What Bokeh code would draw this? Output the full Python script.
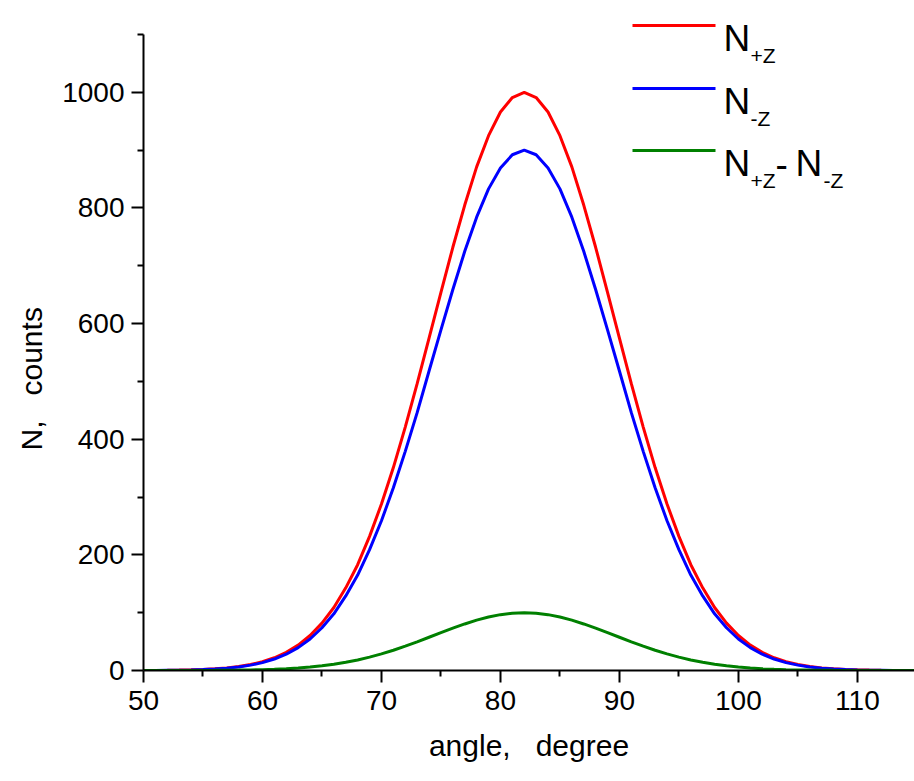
from bokeh.plotting import figure
from bokeh.models import Range1d, Label, Arrow, FixedTicker, Title
from bokeh.embed import file_html
from bokeh.resources import INLINE

angle = list(range(50, 116))

n_plus_z = [0.1, 0.2, 0.4, 0.7, 1.1, 1.8, 2.9, 4.5, 6.8, 10.3, 15.1, 22.0, 31.3, 43.9, 60.5,
            82, 109, 143, 183, 232, 288, 351, 421, 496, 575, 654, 732, 805, 871, 925, 966, 991,
            1000,
            991, 966, 925, 871, 805, 732, 654, 575, 496, 421, 351, 288, 232, 183, 143, 109, 82,
            60.5, 43.9, 31.3, 22.0, 15.1, 10.3, 6.8, 4.5, 2.9, 1.8, 1.1, 0.7, 0.4, 0.2, 0.1, 0.1]

n_minus_z = [0.1, 0.2, 0.4, 0.6, 1.0, 1.6, 2.6, 4.1, 6.1, 9.3, 13.6, 19.8, 28.2, 39.5, 54.5,
             74, 98, 129, 165, 209, 259, 316, 379, 446, 518, 589, 659, 725, 784, 833, 869, 892,
             900,
             892, 869, 833, 784, 725, 659, 589, 518, 446, 379, 316, 259, 209, 165, 129, 98, 74,
             54.5, 39.5, 28.2, 19.8, 13.6, 9.3, 6.1, 4.1, 2.6, 1.6, 1.0, 0.6, 0.4, 0.2, 0.1, 0.1]

n_diff = [0.0, 0.0, 0.0, 0.1, 0.1, 0.2, 0.3, 0.5, 0.7, 1.0, 1.5, 2.2, 3.1, 4.4, 6.1,
          8.2, 10.9, 14.3, 18.3, 23.2, 28.8, 35.1, 42.1, 49.6, 57.5, 65.4, 73.2, 80.5, 87.1, 92.5, 96.6, 99.1,
          100,
          99.1, 96.6, 92.5, 87.1, 80.5, 73.2, 65.4, 57.5, 49.6, 42.1, 35.1, 28.8, 23.2, 18.3, 14.3, 10.9, 8.2,
          6.1, 4.4, 3.1, 2.2, 1.5, 1.0, 0.7, 0.5, 0.3, 0.2, 0.1, 0.1, 0.0, 0.0, 0.0, 0.0]

x_ticks = [50, 60, 70, 80, 90, 100, 110]
y_ticks = [0, 200, 400, 600, 800, 1000]
x_minor = [55, 65, 75, 85, 95, 105, 115]
y_minor = [100, 300, 500, 700, 900, 1100]

FONT = "Liberation Sans"

p = figure(width=914, height=781, output_backend="svg", toolbar_location=None,
           x_range=Range1d(50, 114.8), y_range=Range1d(0, 1158.8),
           min_border_left=143, min_border_right=0, min_border_top=0, min_border_bottom=111)
p.outline_line_color = None
p.grid.visible = False
p.background_fill_color = "white"

p.line(angle, n_plus_z, line_color="#FF0000", line_width=3)
p.line(angle, n_minus_z, line_color="#0000FF", line_width=3)
p.line(angle, n_diff, line_color="#008000", line_width=3)

for ax in (p.xaxis[0], p.yaxis[0]):
    ax.axis_line_width = 2
    ax.major_tick_line_width = 2
    ax.minor_tick_line_width = 2
    ax.major_tick_in = 0
    ax.major_tick_out = 12
    ax.minor_tick_in = 0
    ax.minor_tick_out = 6
    ax.major_label_text_font = FONT
    ax.major_label_text_font_size = "28px"
    ax.major_label_text_color = "black"
    ax.axis_label_text_font = FONT
    ax.axis_label_text_font_size = "30px"
    ax.axis_label_text_font_style = "normal"
    ax.axis_label_text_color = "black"

p.xaxis[0].ticker = FixedTicker(ticks=x_ticks, minor_ticks=x_minor)
p.yaxis[0].ticker = FixedTicker(ticks=y_ticks, minor_ticks=y_minor)
p.yaxis[0].bounds = (0, 1100)
p.xaxis[0].axis_label = "angle,\u00a0\u00a0 degree"
p.xaxis[0].major_label_standoff = 8
p.yaxis[0].major_label_standoff = 7
p.xaxis[0].axis_label_standoff = 16

# y-axis title, placed below the frame centre as in the reference
p.add_layout(Title(text="N,\u00a0\u00a0 counts", align="left", offset=220, standoff=24,
                   text_font=FONT, text_font_size="30px", text_font_style="normal",
                   text_color="black"), "left")

# legend (drawn by hand to allow subscripts)
legend_colors = ["#FF0000", "#0000FF", "#008000"]
legend_line_y = [645, 582, 520]
for c, yy in zip(legend_colors, legend_line_y):
    p.add_layout(Arrow(end=None, start=None, x_start=489, y_start=yy, x_end=572, y_end=yy,
                       start_units="screen", end_units="screen",
                       line_color=c, line_width=3))

def lab(x, y, t, size):
    p.add_layout(Label(x=x, y=y, x_units="screen", y_units="screen", text=t,
                       text_font=FONT, text_font_size=size, text_color="black",
                       text_baseline="alphabetic", text_align="left"))

big, small = "37px", "21px"
lab(580, 632, "N", big)
lab(607, 615, "+Z", small)
lab(580, 569, "N", big)
lab(607, 552, "-Z", small)
lab(580, 507, "N", big)
lab(607, 490, "+Z", small)
lab(632, 507, "-", big)
lab(652, 507, "N", big)
lab(680, 490, "-Z", small)

open("out.html", "w").write(file_html(p, INLINE))
